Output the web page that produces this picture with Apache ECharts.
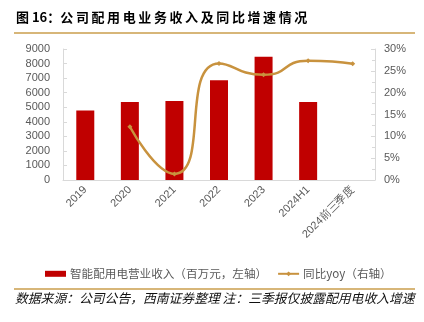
<!DOCTYPE html>
<html>
<head>
<meta charset="utf-8">
<script src="https://cdn.jsdelivr.net/npm/echarts@6/dist/echarts.min.js"></script>
<style>
  html, body { margin: 0; padding: 0; background: #fff; }
  #chart { width: 424px; height: 322px; }
</style>
</head>
<body>
<div id="chart"></div>
<script>
// Categories and values
const categories = ['2019', '2020', '2021', '2022', '2023', '2024H1', '2024前三季度'];
const revenue = [4780, 5360, 5430, 6850, 8470, 5360, null];   // 百万元
const yoy = [null, 12.2, 1.4, 26.7, 24.1, 27.3, 26.6];          // %
const leftTicks = { min: 0, max: 9000, interval: 1000 };
const rightTicks = { min: 0, max: 30, interval: 5 };

const titleHead = '图 16：';
const titleBody = '公司配用电业务收入及同比增速情况';
const sourceText = '数据来源：公司公告，西南证券整理 注：三季报仅披露配用电收入增速';
const barName = '智能配用电营业收入（百万元，左轴）';
const lineName = '同比yoy（右轴）';

const cjk = '"Noto Sans CJK SC", "Liberation Sans", sans-serif';
const num = '"Liberation Sans", Arial, sans-serif';
const axisGrey = '#D9D9D9';
const labelGrey = '#595959';
const gold = '#C8923E';
const red = '#C00000';

// spread CJK glyphs apart with thin spaces
const spaced = s => s.split('').join('\u2009');

const chart = echarts.init(document.getElementById('chart'), null, { renderer: 'canvas' });

chart.setOption({
  animation: false,
  backgroundColor: '#ffffff',
  graphic: [
    {
      type: 'text', left: 16, top: 11,
      style: { text: titleHead + spaced(titleBody), font: 'bold 13px ' + cjk, fill: '#000000' }
    },
    {
      type: 'rect', shape: { x: 14, y: 32, width: 401, height: 2 },
      style: { fill: '#D7B679' }
    },
    {
      type: 'rect', shape: { x: 14, y: 288, width: 401, height: 2 },
      style: { fill: '#D7B679' }
    },
    {
      type: 'text', left: 15, top: 292,
      style: { text: sourceText, font: 'italic 12.8px ' + cjk, fill: '#111111' }
    }
  ],
  grid: { left: 63, right: 49, top: 49, bottom: 142, containLabel: false },
  legend: {
    left: 40, top: 263,
    itemGap: 10,
    itemWidth: 21, itemHeight: 6,
    textStyle: { fontFamily: cjk, fontSize: 11.6, color: labelGrey, padding: [0, 0, 0, -1] },
    data: [
      { name: barName, icon: 'rect' },
      { name: lineName }
    ]
  },
  xAxis: {
    type: 'category',
    data: categories,
    axisLine: { lineStyle: { color: axisGrey, width: 1 } },
    axisTick: { show: false },
    axisLabel: {
      rotate: 45, interval: 0, margin: 8,
      fontFamily: num, fontSize: 11, color: labelGrey
    }
  },
  yAxis: [
    {
      type: 'value',
      min: leftTicks.min, max: leftTicks.max, interval: leftTicks.interval,
      axisLine: { show: true, lineStyle: { color: axisGrey } },
      axisTick: { show: true, inside: true, length: 4, lineStyle: { color: axisGrey } },
      splitLine: { show: false },
      axisLabel: {
        margin: 13, fontFamily: num, fontSize: 11, color: labelGrey,
        formatter: v => String(v)
      }
    },
    {
      type: 'value',
      min: rightTicks.min, max: rightTicks.max, interval: rightTicks.interval,
      position: 'right',
      axisLine: { show: true, lineStyle: { color: axisGrey } },
      axisTick: { show: true, inside: true, length: 4, lineStyle: { color: axisGrey } },
      minorTick: { show: true, splitNumber: 2, length: 3, lineStyle: { color: axisGrey } },
      splitLine: { show: false },
      axisLabel: {
        margin: 9, fontFamily: num, fontSize: 11, color: labelGrey,
        formatter: v => v + '%'
      }
    }
  ],
  series: [
    {
      name: barName,
      type: 'bar',
      data: revenue,
      barWidth: 18,
      itemStyle: { color: red }
    },
    {
      name: lineName,
      type: 'line',
      yAxisIndex: 1,
      data: yoy,
      smooth: 0.6,
      connectNulls: false,
      symbol: 'diamond',
      symbolSize: 5,
      showSymbol: true,
      lineStyle: { color: gold, width: 2.5 },
      itemStyle: { color: gold }
    }
  ]
});
</script>
</body>
</html>
